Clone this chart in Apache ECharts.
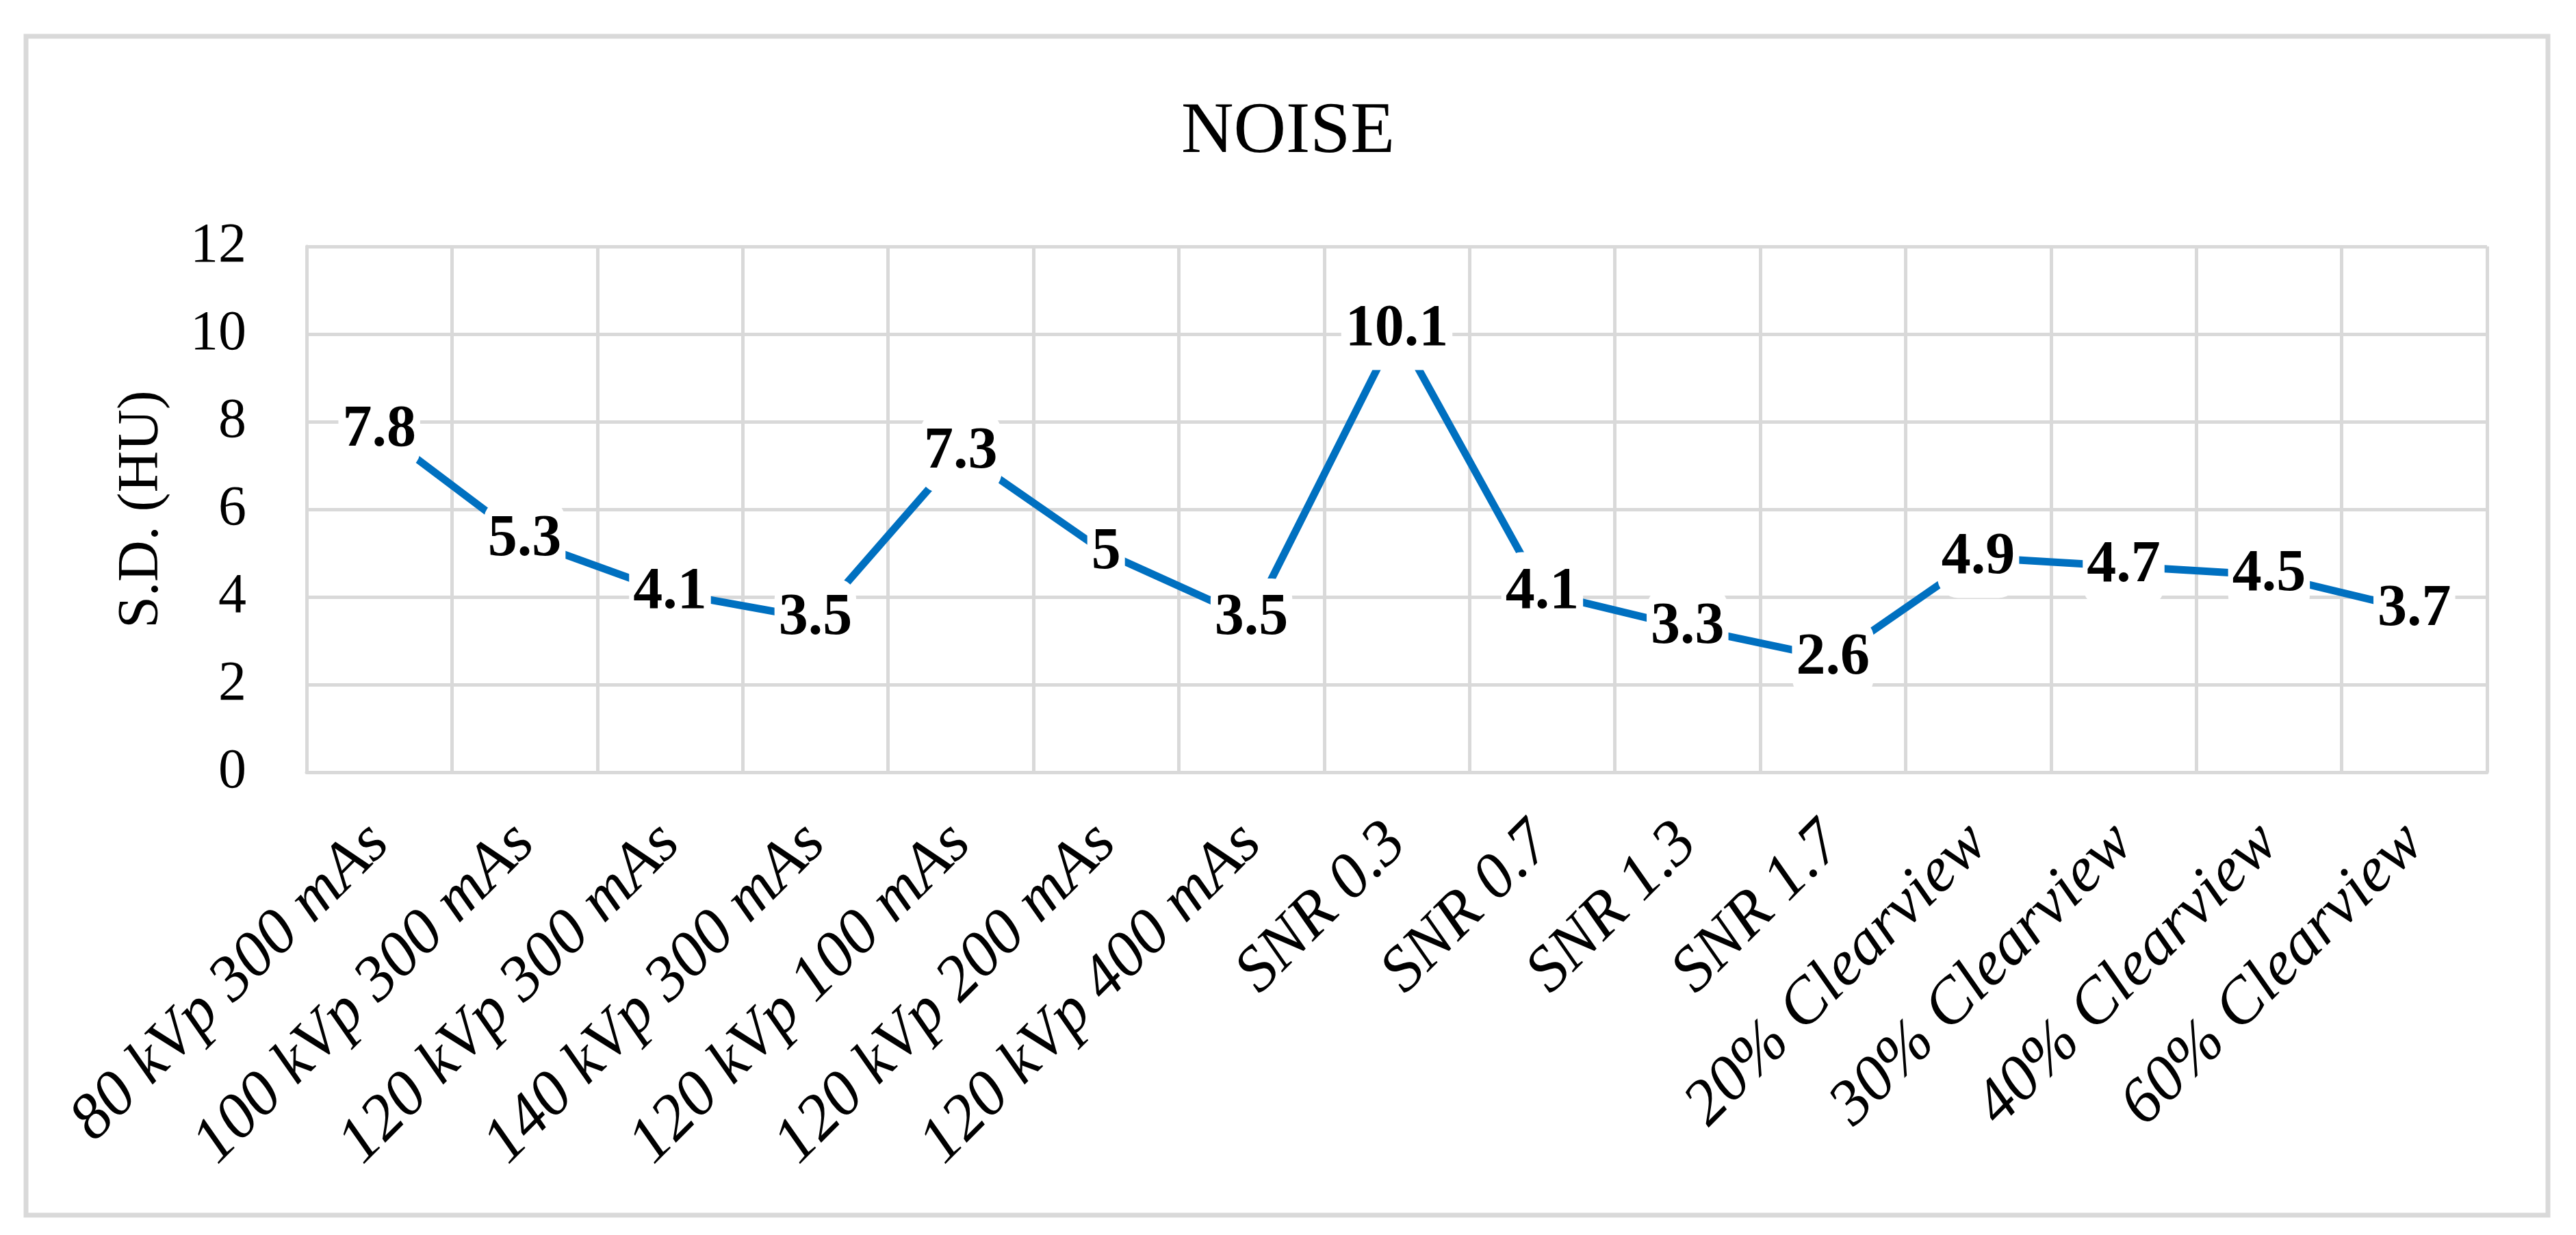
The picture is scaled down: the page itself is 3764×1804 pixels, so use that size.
<!DOCTYPE html>
<html>
<head>
<meta charset="utf-8">
<script src="https://cdn.jsdelivr.net/npm/echarts@6/dist/echarts.min.js"></script>
<style>
html,body{margin:0;padding:0;background:#fff;}
#c{width:3764px;height:1804px;}
</style>
</head>
<body>
<div id="c"></div>
<script>
const categories = ["80 kVp 300 mAs","100 kVp 300 mAs","120 kVp 300 mAs","140 kVp 300 mAs","120 kVp 100 mAs","120 kVp 200 mAs","120 kVp 400 mAs","SNR 0.3","SNR 0.7","SNR 1.3","SNR 1.7","20% Clearview","30% Clearview","40% Clearview","60% Clearview"];
const noiseSD = [7.8, 5.3, 4.1, 3.5, 7.3, 5, 3.5, 10.1, 4.1, 3.3, 2.6, 4.9, 4.7, 4.5, 3.7];
const yTicks = {min: 0, max: 12, interval: 2};
const titleText = "NOISE";
const yName = "S.D. (HU)";

const FONT = "'Liberation Serif', 'DejaVu Serif', serif";
const GRID = '#d9d9d9';

const chart = echarts.init(document.getElementById('c'), null, {renderer: 'canvas'});
chart.setOption({
  backgroundColor: '#fff',
  animation: false,
  title: {
    text: titleText,
    left: 'center',
    top: 136,
    textStyle: {fontFamily: FONT, fontSize: 106, fontWeight: 'normal', color: '#000'}
  },
  graphic: [{
    type: 'rect',
    shape: {x: 38, y: 53, width: 3685, height: 1722},
    style: {fill: 'none', stroke: GRID, lineWidth: 7},
    z: -1
  }],
  grid: {left: 448, right: 130, top: 360, bottom: 676, containLabel: false},
  xAxis: {
    type: 'category',
    data: categories,
    boundaryGap: true,
    axisLine: {show: true, lineStyle: {color: GRID, width: 5}},
    axisTick: {show: false},
    splitLine: {show: true, lineStyle: {color: GRID, width: 5}},
    axisLabel: {
      interval: 0,
      rotate: 45,
      margin: 90,
      fontFamily: FONT,
      fontStyle: 'italic',
      fontSize: 94,
      color: '#000'
    }
  },
  yAxis: {
    type: 'value',
    min: yTicks.min,
    max: yTicks.max,
    interval: yTicks.interval,
    name: yName,
    nameLocation: 'middle',
    nameGap: 198,
    nameRotate: 90,
    nameTextStyle: {fontFamily: FONT, fontSize: 84, color: '#000'},
    axisLine: {show: true, lineStyle: {color: GRID, width: 5}},
    axisTick: {show: false},
    splitLine: {show: true, lineStyle: {color: GRID, width: 5}},
    axisLabel: {margin: 88, fontFamily: FONT, fontSize: 82, color: '#000'}
  },
  series: [{
    type: 'line',
    data: noiseSD,
    symbol: 'circle',
    symbolSize: 2,
    showSymbol: true,
    itemStyle: {color: 'rgba(0,0,0,0)', borderWidth: 0},
    lineStyle: {color: '#0070C0', width: 11, cap: 'butt'},
    emphasis: {disabled: true},
    label: {
      show: true,
      position: 'inside',
      fontFamily: FONT,
      fontSize: 86,
      fontWeight: 'bold',
      color: '#000',
      backgroundColor: '#fff',
      padding: [16, 6],
      borderRadius: 30
    },
    z: 3
  }]
});
</script>
</body>
</html>
